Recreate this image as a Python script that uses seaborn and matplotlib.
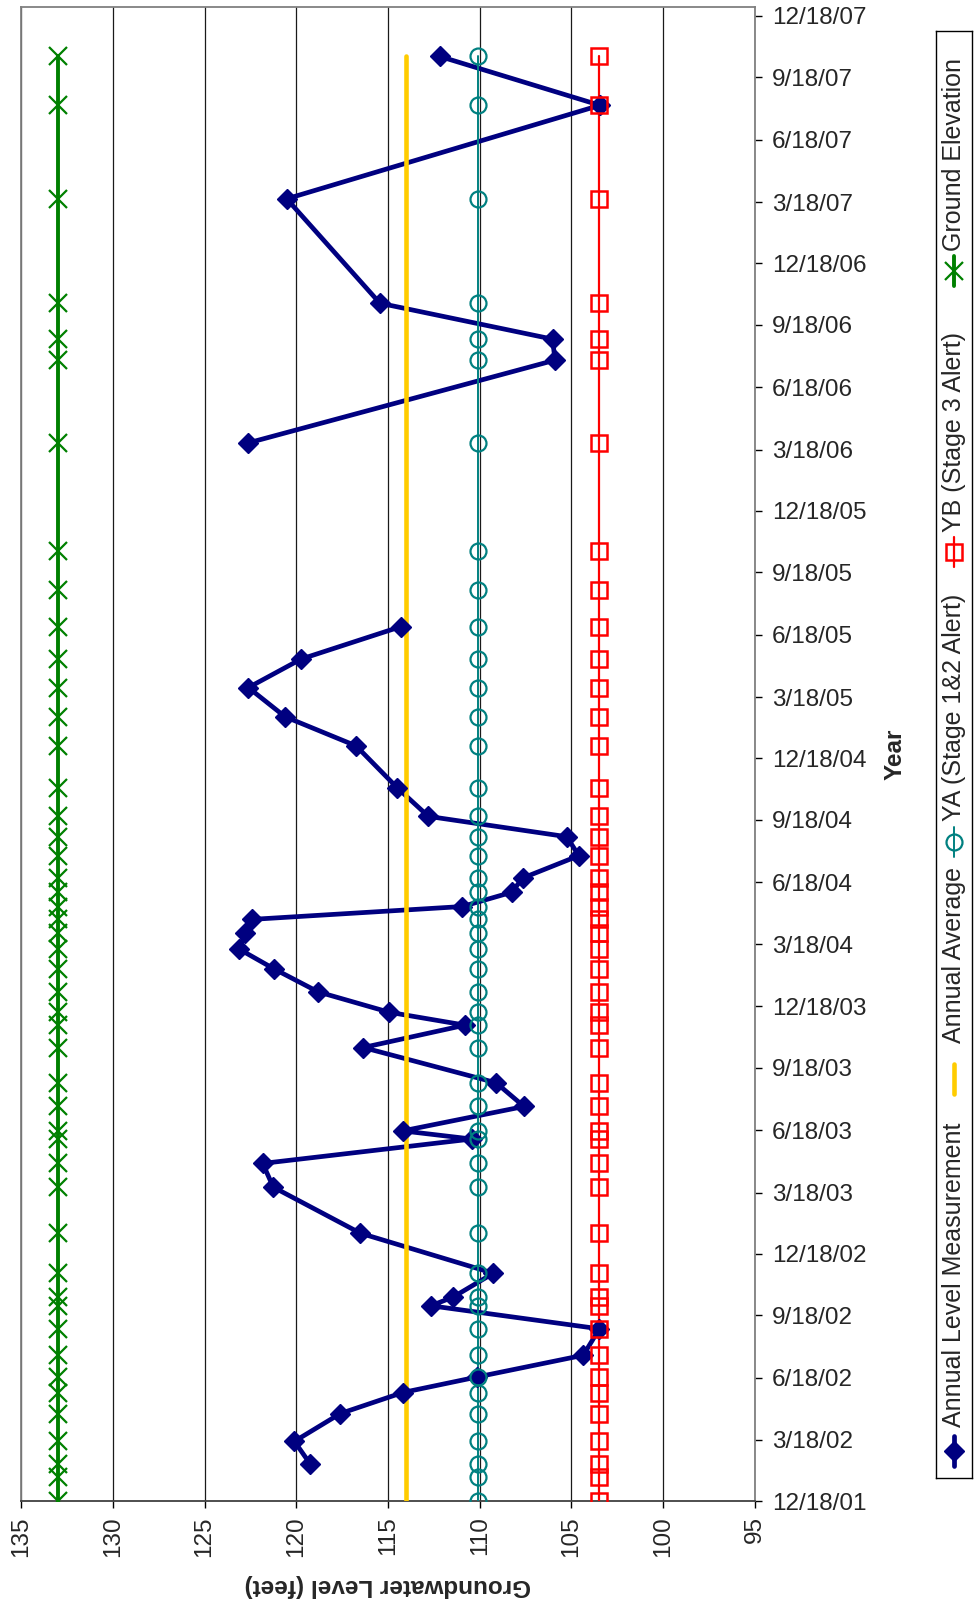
import numpy as np
import pandas as pd
import matplotlib
matplotlib.use("Agg")
import matplotlib.pyplot as plt
import seaborn as sns
from matplotlib.lines import Line2D

# ---------------- data ----------------
dates = [
    "2001-12-18", "2002-01-23", "2002-02-11", "2002-03-16", "2002-04-26", "2002-05-27",
    "2002-06-19", "2002-07-21", "2002-08-29", "2002-10-02", "2002-10-15", "2002-11-19",
    "2003-01-17", "2003-03-26", "2003-04-30", "2003-06-05", "2003-06-17", "2003-07-23",
    "2003-08-27", "2003-10-18", "2003-11-20", "2003-12-09", "2004-01-08", "2004-02-11",
    "2004-03-11", "2004-04-04", "2004-04-24", "2004-05-13", "2004-06-03", "2004-06-24",
    "2004-07-27", "2004-08-24", "2004-09-23", "2004-11-04", "2005-01-05", "2005-02-17",
    "2005-04-01", "2005-05-13", "2005-06-30", "2005-08-23", "2005-10-19", "2006-03-28",
    "2006-07-28", "2006-08-28", "2006-10-20", "2007-03-23", "2007-08-08", "2007-10-19",
]
level_measurement = [
    np.nan, np.nan, 119.25, 120.1, 117.6, 114.2,
    110.13, 104.36, 103.48, 112.66, 111.44, 109.26,
    116.5, 121.25, 121.83, 110.44, 114.2, 107.59,
    109.11, 116.35, 110.8, 114.93, 118.8, 121.21,
    123.1, 122.79, 122.43, 110.95, 108.26, 107.66,
    104.6, 105.26, 112.8, 114.49, 116.74, 120.61,
    122.61, 119.74, 114.29, np.nan, np.nan, 122.61,
    105.9, 106.03, 115.44, 120.52, 103.45, 112.17,
]
annual_average = 114.04
ya_alert = 110.1
yb_alert = 103.5
ground_elevation = 133.0

series_names = ["Annual Level Measurement", "Annual Average",
                "YA (Stage 1&2 Alert)", "YB (Stage 3 Alert)", "Ground Elevation"]
level_ticks = [135, 130, 125, 120, 115, 110, 105, 100, 95]
date_tick_first = "2001-12-18"
date_tick_last = "2007-12-18"
date_axis_max = "2007-12-31"
x_label = "Groundwater Level (feet)"
y_label = "Year"

# ---------------- build frame ----------------
df = pd.DataFrame({"date": pd.to_datetime(dates), "level": level_measurement})
n = len(df)
df["avg"] = np.full(n, annual_average)
df["ya"] = np.full(n, ya_alert)
df["yb"] = np.full(n, yb_alert)
df["ground"] = np.full(n, ground_elevation)
# missing readings break the measurement line (as in the source chart)
df["seg"] = np.cumsum(df["level"].isna().to_numpy())
meas = df.dropna(subset=["level"])

sns.set_style("white")
plt.rcParams["font.family"] = ["Liberation Sans", "DejaVu Sans"]

W, H = 977, 1604
fig = plt.figure(figsize=(W / 100, H / 100), dpi=100)
L, R, T, B = 21, 755, 7, 1501
ax = fig.add_axes([L / W, 1 - B / H, (R - L) / W, (B - T) / H])

navy = "#000080"
gold = "#FFCC00"
teal = "#008080"
red = "#FF0000"
green = "#008000"

st_meas = dict(color=navy, lw=3.4, marker="D", ms=10.5, mec=navy, mfc=navy, mew=1)
st_avg = dict(color=gold, lw=3.3)
st_ya = dict(color=teal, lw=1.4, marker="o", ms=11.5, mfc="none", mec=teal, mew=1.6)
st_yb = dict(color=red, lw=1.6, marker="s", ms=11.5, mfc="none", mec=red, mew=1.8)
st_gr = dict(color=green, lw=2.8, marker="x", ms=12.5, mec=green, mew=1.6)

common = dict(ax=ax, sort=False, estimator=None, legend=False)
plots = [
    (meas, "level", st_meas, dict(units="seg")),
    (df, "avg", st_avg, {}),
    (df, "ya", st_ya, {}),
    (df, "yb", st_yb, {}),
    (df, "ground", st_gr, {}),
]
# lines first (all series), then markers on top, like the Excel original
for i, (data, col, st, extra) in enumerate(plots):
    sns.lineplot(data=data, x=col, y="date", color=st["color"], lw=st["lw"],
                 zorder=3 + i, **extra, **common)
for i, (data, col, st, extra) in enumerate(plots):
    if "marker" not in st:
        continue
    mk = {k: v for k, v in st.items() if k not in ("lw",)}
    sns.lineplot(data=data, x=col, y="date", ls="none", zorder=10 + i,
                 **mk, **extra, **common)

# ---------------- axes ----------------
ax.set_xlim(level_ticks[0], level_ticks[-1])
ax.set_xticks(level_ticks)
ax.set_xticklabels([str(v) for v in level_ticks])
ax.xaxis.grid(True, color="#1a1a1a", lw=0.9)
ax.yaxis.grid(False)
ax.set_axisbelow(True)

ticks = pd.date_range(date_tick_first, date_tick_last, freq=pd.DateOffset(months=3))
ax.set_ylim(pd.Timestamp(date_tick_first), pd.Timestamp(date_axis_max))
ax.set_yticks(ticks)
ax.set_yticklabels([f"{d.month}/{d.day}/{d:%y}" for d in ticks])
ax.yaxis.tick_right()
ax.yaxis.set_label_position("right")

ax.tick_params(axis="x", direction="out", length=5, width=1, color="black",
               labelsize=17.5, labelrotation=90, pad=6, bottom=True)
ax.tick_params(axis="y", direction="out", length=5, width=1, color="black",
               labelsize=17.5, pad=7, right=True, left=False)

for side in ["left", "top", "right"]:
    ax.spines[side].set_color("#808080")
    ax.spines[side].set_linewidth(1.3)
ax.spines["bottom"].set_color("#404040")
ax.spines["bottom"].set_linewidth(1.3)

ax.set_xlabel(x_label, fontsize=17.5, fontweight="bold", rotation=180)
ax.xaxis.set_label_coords(0.5, (B - 1586) / (B - T))
ax.xaxis.label.set_va("center")
ax.set_ylabel(y_label, fontsize=17.5, fontweight="bold", rotation=90)
ax.yaxis.set_label_coords((895 - L) / (R - L), 0.5)
ax.yaxis.label.set_va("center")

# ---------------- rotated legend ----------------
LL, LR, LT, LB = 936, 972, 31, 1478
lax = fig.add_axes([LL / W, 1 - LB / H, (LR - LL) / W, (LB - LT) / H])
lax.set_xlim(0, 1)
lax.set_ylim(0, 1)
lax.set_xticks([])
lax.set_yticks([])
for s in lax.spines.values():
    s.set_color("black")
    s.set_linewidth(1.0)
lax.set_facecolor("white")

def frac(y):
    return (LB - y) / (LB - LT)

handle_centers = [1451, 1079, 842, 552, 271]
text_starts = [1427, 1043, 821, 532, 251]
styles = [st_meas, st_avg, st_ya, st_yb, st_gr]
half = 15 / (LB - LT)
line_keys = ("color", "lw")
for name, hc, ts, st in zip(series_names, handle_centers, text_starts, styles):
    c = frac(hc)
    lax.add_line(Line2D([0.5, 0.5], [c - half, c + half], transform=lax.transAxes,
                        **{k: v for k, v in st.items() if k in line_keys}))
    if "marker" in st:
        lax.add_line(Line2D([0.5], [c], transform=lax.transAxes, ls="none",
                            **{k: v for k, v in st.items() if k != "lw"}))
    lax.text(0.5, frac(ts), name, rotation=90, ha="center", va="bottom",
             fontsize=18, transform=lax.transAxes)

fig.savefig("out.png", dpi=100, facecolor="white")
